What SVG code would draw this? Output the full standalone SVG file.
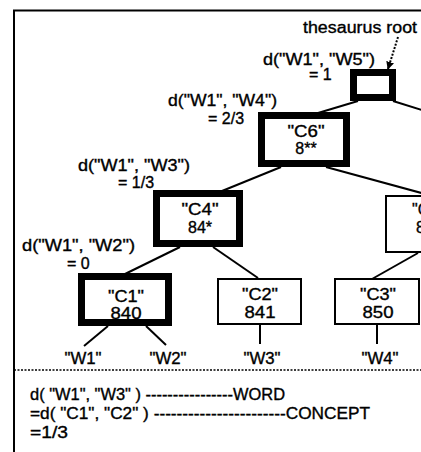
<svg xmlns="http://www.w3.org/2000/svg" width="421" height="452" viewBox="0 0 421 452">
<style>
text{font-family:"Liberation Sans",Arial,sans-serif;font-size:16px;fill:#000;stroke:#000;stroke-width:0.35}
.n{text-anchor:middle;font-size:16px}
.thick{fill:#fff;stroke:#000;stroke-width:7}
.thin{fill:#fff;stroke:#000;stroke-width:2}
.c line{stroke:#000;stroke-width:2}
</style>
<defs>
<marker id="ah" viewBox="0 0 10 10" refX="9" refY="5" markerWidth="4" markerHeight="4" orient="auto" markerUnits="strokeWidth">
<path d="M0,0 L10,5 L0,10 z" fill="#000"/>
</marker>
</defs>
<rect width="421" height="452" fill="#fff"/>
<g id="frame">
<path d="M14,452 V10.5 H421" fill="none" stroke="#000" stroke-width="2"/>
<line x1="14" y1="370" x2="421" y2="370" stroke="#000" stroke-width="1.6" stroke-dasharray="2 1.5"/>
</g>
<g class="c" id="connectors">
<line x1="358" y1="101" x2="318" y2="113"/>
<line x1="393" y1="101" x2="425" y2="111"/>
<line x1="281" y1="167" x2="222" y2="191"/>
<line x1="326" y1="167" x2="425" y2="194"/>
<line x1="180" y1="247" x2="125" y2="274"/>
<line x1="213" y1="247" x2="258" y2="278"/>
<line x1="418" y1="253" x2="372" y2="279"/>
<line x1="108" y1="326" x2="84" y2="346"/>
<line x1="146" y1="326" x2="166" y2="345"/>
<line x1="260" y1="325" x2="260" y2="344"/>
<line x1="377" y1="325" x2="377" y2="344"/>
<line x1="398" y1="37" x2="388" y2="69" stroke-dasharray="2 1.5" marker-end="url(#ah)"/>
</g>
<g id="root"><rect class="thick" x="353.5" y="72.5" width="39" height="25"/></g>
<g id="C6"><rect class="thick" x="261.5" y="115.5" width="85" height="48"/><text class="n" x="306" y="137" textLength="37" lengthAdjust="spacingAndGlyphs">"C6"</text><text class="n" x="306" y="154">8**</text></g>
<g id="C4"><rect class="thick" x="156.5" y="193.5" width="83" height="50"/><text class="n" x="200" y="215" textLength="37" lengthAdjust="spacingAndGlyphs">"C4"</text><text class="n" x="200" y="233">84*</text></g>
<g id="C5"><rect class="thin" x="386" y="196" width="84" height="56"/><text class="n" x="428" y="215">"C5"</text><text class="n" x="428" y="233">85*</text></g>
<g id="C1"><rect class="thick" x="81.5" y="276.5" width="87" height="46"/><text class="n" x="126" y="302" textLength="36" lengthAdjust="spacingAndGlyphs">"C1"</text><text class="n" x="126" y="319" textLength="31" lengthAdjust="spacingAndGlyphs">840</text></g>
<g id="C2"><rect class="thin" x="218" y="279" width="83" height="45"/><text class="n" x="260" y="300" textLength="36" lengthAdjust="spacingAndGlyphs">"C2"</text><text class="n" x="260" y="318" textLength="31" lengthAdjust="spacingAndGlyphs">841</text></g>
<g id="C3"><rect class="thin" x="335" y="279" width="84" height="45"/><text class="n" x="378" y="300" textLength="36" lengthAdjust="spacingAndGlyphs">"C3"</text><text class="n" x="378" y="318" textLength="31" lengthAdjust="spacingAndGlyphs">850</text></g>
<g id="words">
<text class="n" x="83" y="364" textLength="37" lengthAdjust="spacingAndGlyphs">"W1"</text>
<text class="n" x="168" y="364" textLength="37" lengthAdjust="spacingAndGlyphs">"W2"</text>
<text class="n" x="262" y="364" textLength="37" lengthAdjust="spacingAndGlyphs">"W3"</text>
<text class="n" x="380" y="364" textLength="37" lengthAdjust="spacingAndGlyphs">"W4"</text>
</g>
<g id="labels">
<text x="303" y="33" textLength="114" lengthAdjust="spacingAndGlyphs">thesaurus root</text>
<text x="263" y="65" textLength="112" lengthAdjust="spacingAndGlyphs">d("W1", "W5")</text>
<text x="309" y="80">= 1</text>
<text x="168" y="106" textLength="109" lengthAdjust="spacingAndGlyphs">d("W1", "W4")</text>
<text x="208" y="124">= 2/3</text>
<text x="78" y="171" textLength="112" lengthAdjust="spacingAndGlyphs">d("W1", "W3")</text>
<text x="118" y="188">= 1/3</text>
<text x="22" y="251" textLength="113" lengthAdjust="spacingAndGlyphs">d("W1", "W2")</text>
<text x="67" y="269">= 0</text>
</g>
<g id="formula">
<text x="30" y="400" textLength="255" lengthAdjust="spacingAndGlyphs">d( "W1", "W3" ) ----------------WORD</text>
<text x="30" y="419" textLength="340" lengthAdjust="spacingAndGlyphs">=d( "C1", "C2" ) -----------------------CONCEPT</text>
<text x="30" y="438" textLength="38" lengthAdjust="spacingAndGlyphs">=1/3</text>
</g>
</svg>
